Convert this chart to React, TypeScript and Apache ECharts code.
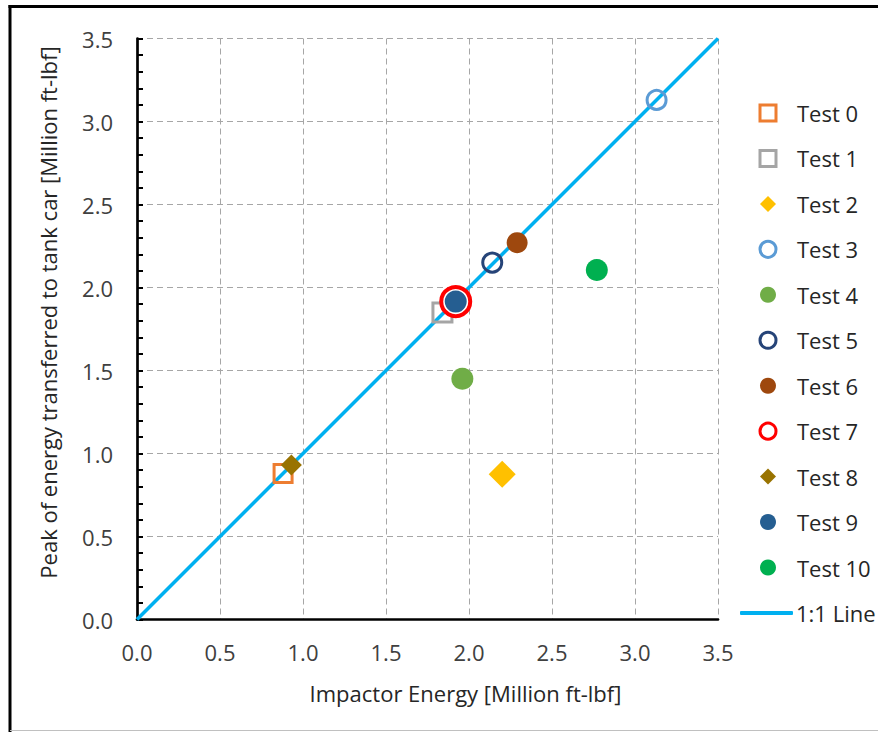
import React, { useEffect, useRef } from "react";
import * as echarts from "echarts";

// ---- Data ----
const testNames = [
  "Test 0", "Test 1", "Test 2", "Test 3", "Test 4", "Test 5",
  "Test 6", "Test 7", "Test 8", "Test 9", "Test 10",
];
const impactorEnergy = [0.88, 1.84, 2.2, 3.13, 1.96, 2.14, 2.29, 1.92, 0.93, 1.92, 2.77];
const peakEnergy = [0.88, 1.85, 0.875, 3.13, 1.45, 2.15, 2.27, 1.915, 0.93, 1.915, 2.105];
const lineName = "1:1 Line";
const lineX = [0, 3.5];
const lineY = [0, 3.5];
const axisMin = 0;
const axisMax = 3.5;
const axisInterval = 0.5;

// ---- Styles ----
type MarkStyle = { symbol: string; size: number; color: string; hollow: boolean; border: number; fill?: string };
const markStyles: MarkStyle[] = [
  { symbol: "rect", size: 18, color: "#ED7D31", hollow: true, border: 3 },
  { symbol: "rect", size: 19, color: "#A5A5A5", hollow: true, border: 3 },
  { symbol: "diamond", size: 27, color: "#FFC000", hollow: false, border: 0 },
  { symbol: "circle", size: 19, color: "#5B9BD5", hollow: true, border: 3 },
  { symbol: "circle", size: 22, color: "#70AD47", hollow: false, border: 0 },
  { symbol: "circle", size: 19, color: "#264478", hollow: true, border: 3 },
  { symbol: "circle", size: 21, color: "#9E480E", hollow: false, border: 0 },
  { symbol: "circle", size: 29, color: "#FF0000", hollow: true, border: 4, fill: "#ffffff" },
  { symbol: "diamond", size: 21, color: "#997300", hollow: false, border: 0 },
  { symbol: "circle", size: 22, color: "#255E91", hollow: false, border: 0 },
  { symbol: "circle", size: 22, color: "#00B050", hollow: false, border: 0 },
];
const lineColor = "#00B0F0";
const FONT = "'Open Sans', 'Liberation Sans', sans-serif";
const FS = 22;

export default function App() {
  const ref = useRef<HTMLDivElement>(null);

  useEffect(() => {
    if (!ref.current) return;
    const chart = echarts.init(ref.current, null, { renderer: "svg" });

    const scatterSeries = testNames.map((name, i) => {
      const s = markStyles[i];
      return {
        name,
        type: "scatter",
        z: 3,
        symbol: s.symbol,
        symbolSize: s.size,
        itemStyle: s.hollow
          ? { color: s.fill || "rgba(0,0,0,0)", borderColor: s.color, borderWidth: s.border, opacity: 1 }
          : { color: s.color, borderWidth: 0, opacity: 1 },
        emphasis: { disabled: true },
        data: [[impactorEnergy[i], peakEnergy[i]]],
      };
    });

    const legendData: any[] = testNames.map((name, i) => {
      const s = markStyles[i];
      return {
        name,
        icon: s.symbol,
        itemStyle: s.hollow
          ? { color: "rgba(0,0,0,0)", borderColor: s.color, borderWidth: 3 }
          : { color: s.color, borderWidth: 0 },
      };
    });

    const axisCommon = {
      type: "value",
      min: axisMin,
      max: axisMax,
      interval: axisInterval,
      axisLine: { show: true, onZero: false, lineStyle: { color: "#000", width: 2.7 } },
      splitLine: { show: true, lineStyle: { color: "#A6A6A6", type: [6, 4], width: 1 } },
      axisLabel: {
        color: "#404040",
        fontSize: FS,
        fontFamily: FONT,
        formatter: (v: number) => v.toFixed(1),
      },
    };

    const legendText = { color: "#262626", fontSize: FS, lineHeight: FS, fontFamily: FONT };

    chart.setOption({
      animation: false,
      backgroundColor: "#ffffff",
      textStyle: { fontFamily: FONT },
      grid: { left: 137, top: 38.5, width: 581, height: 581, containLabel: false },
      xAxis: {
        ...axisCommon,
        axisTick: { show: false },
        axisLabel: { ...axisCommon.axisLabel, margin: 21 },
      },
      yAxis: {
        ...axisCommon,
        axisTick: { show: true, inside: true, length: 6, lineStyle: { color: "#000", width: 2 } },
        minorTick: { show: true, splitNumber: 5, length: 6, lineStyle: { color: "#000", width: 2 } },
        axisLabel: { ...axisCommon.axisLabel, margin: 24 },
      },
      legend: [
        {
          orient: "vertical",
          left: 758.5,
          top: 113 - FS / 2,
          padding: 0,
          itemWidth: 16,
          itemHeight: 16,
          itemGap: 45.45 - FS,
          selectedMode: false,
          textStyle: { ...legendText, padding: [0, 0, 0, 16] },
          data: legendData,
        },
        {
          orient: "vertical",
          left: 740,
          top: 613 - FS / 2,
          padding: 0,
          itemWidth: 53,
          itemHeight: 4,
          selectedMode: false,
          textStyle: { ...legendText, padding: [0, 0, 0, -2] },
          data: [{ name: lineName, icon: "roundRect", itemStyle: { color: lineColor, borderWidth: 0 } }],
        },
      ],
      graphic: [
        { type: "line", shape: { x1: 10, y1: 5, x2: 10, y2: 732 }, style: { stroke: "#000", lineWidth: 3 } },
        { type: "line", shape: { x1: 8.5, y1: 6.5, x2: 878, y2: 6.5 }, style: { stroke: "#000", lineWidth: 3 } },
        { type: "line", shape: { x1: 10, y1: 730.5, x2: 878, y2: 730.5 }, style: { stroke: "#C0C0C0", lineWidth: 1 } },
        {
          type: "text",
          x: 465.5,
          y: 693,
          style: {
            text: "Impactor Energy [Million ft-lbf]",
            fill: "#262626",
            font: `${FS}px ${FONT}`,
            textAlign: "center",
            textVerticalAlign: "middle",
          },
        },
        {
          type: "text",
          x: 48,
          y: 312.5,
          rotation: Math.PI / 2,
          style: {
            text: "Peak of energy transferred to tank car [Million ft-lbf]",
            fill: "#262626",
            font: `${FS}px ${FONT}`,
            textAlign: "center",
            textVerticalAlign: "middle",
          },
        },
      ],
      series: [
        {
          name: lineName,
          type: "line",
          z: 1,
          symbol: "none",
          showSymbol: false,
          lineStyle: { color: lineColor, width: 3.5 },
          itemStyle: { color: lineColor },
          emphasis: { disabled: true },
          data: lineX.map((x, i) => [x, lineY[i]]),
        },
        ...scatterSeries,
      ],
    });

    return () => chart.dispose();
  }, []);

  return (
    <div
      ref={ref}
      style={{ position: "absolute", left: 0, top: 0, width: 878, height: 732 }}
    />
  );
}
